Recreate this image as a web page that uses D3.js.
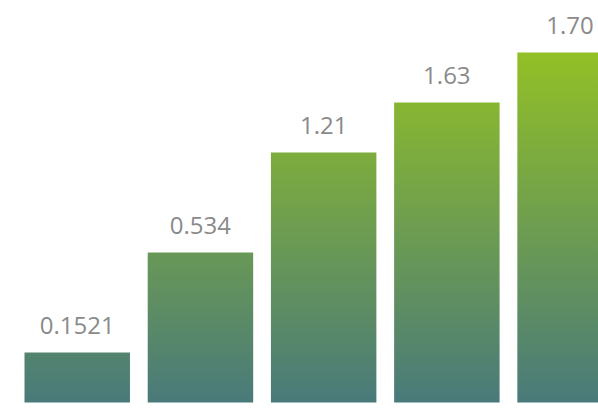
<!DOCTYPE html>
<html>
<head>
<meta charset="utf-8">
<script src="https://cdn.jsdelivr.net/npm/d3@7/dist/d3.min.js"></script>
<style>
  html, body { margin: 0; padding: 0; background: #fff; overflow: hidden; }
  svg { display: block; }
</style>
</head>
<body>
<script>
// Data
const categories = ["A", "B", "C", "D", "E"];
const barLevels = [1, 3, 5, 6, 7];           // displayed bar heights (rank levels)
const valueLabels = ["0.1521", "0.534", "1.21", "1.63", "1.70"];

const W = 598, H = 414;
const svg = d3.select("body").append("svg").attr("width", W).attr("height", H);

const x = d3.scaleBand().domain(categories).range([24.5, 622.8]).paddingInner(0.144).paddingOuter(0);
const y = d3.scaleLinear().domain([0, 7]).range([402.5, 52.5]);

const defs = svg.append("defs");
const grad = defs.append("linearGradient")
  .attr("id", "barGrad")
  .attr("gradientUnits", "userSpaceOnUse")
  .attr("x1", 0).attr("x2", 0)
  .attr("y1", y(0)).attr("y2", y(7));
grad.append("stop").attr("offset", "0%").attr("stop-color", "#497a7a");
grad.append("stop").attr("offset", "100%").attr("stop-color", "#92c026");

const data = categories.map((c, i) => ({ c, level: barLevels[i], label: valueLabels[i] }));

svg.selectAll("rect.bar").data(data).enter().append("rect")
  .attr("class", "bar")
  .attr("x", d => x(d.c))
  .attr("width", x.bandwidth())
  .attr("y", d => y(d.level))
  .attr("height", d => y(0) - y(d.level))
  .attr("fill", "url(#barGrad)");

svg.selectAll("text.lbl").data(data).enter().append("text")
  .attr("class", "lbl")
  .attr("x", d => x(d.c) + x.bandwidth() / 2)
  .attr("y", d => y(d.level) - 19)
  .attr("text-anchor", "middle")
  .attr("font-family", "'Open Sans', sans-serif")
  .attr("font-size", 24)
  .attr("fill", "#8a8a8a")
  .text(d => d.label);
</script>
</body>
</html>
